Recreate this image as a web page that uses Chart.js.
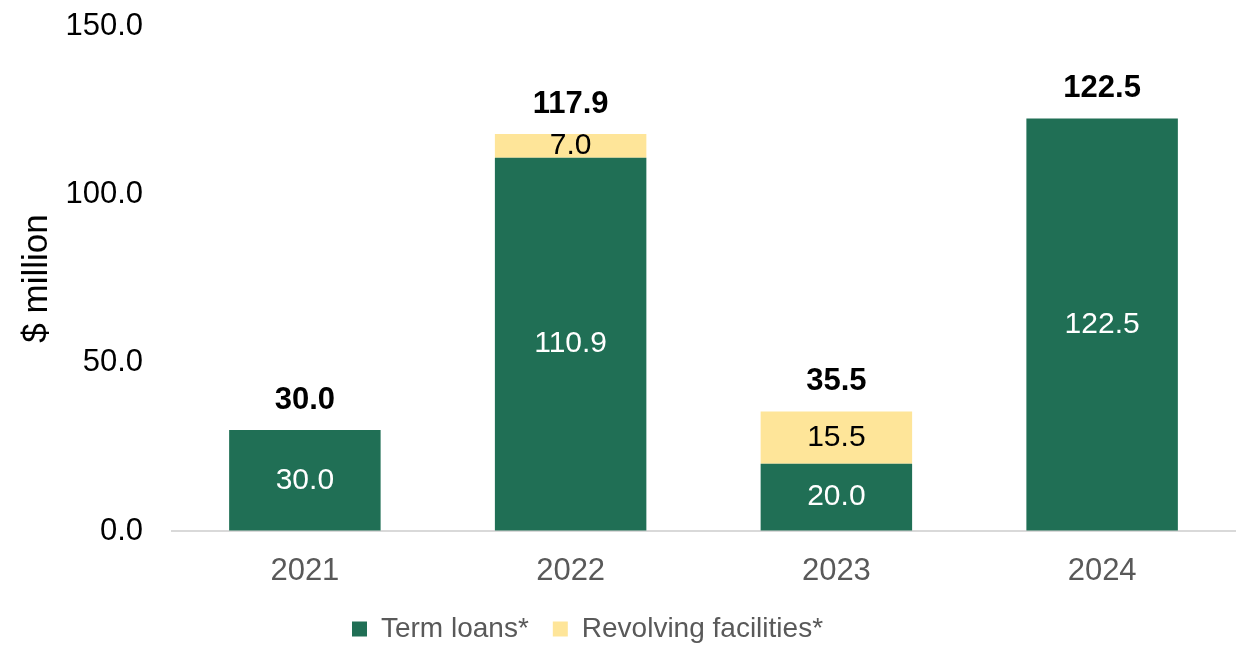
<!DOCTYPE html>
<html>
<head>
<meta charset="utf-8">
<script src="https://cdn.jsdelivr.net/npm/chart.js@4/dist/chart.umd.min.js"></script>
<style>
  html, body { margin: 0; padding: 0; background: #fff; }
  #wrap { width: 1243px; height: 646px; position: relative; }
</style>
</head>
<body>
<div id="wrap"><canvas id="chart"></canvas></div>
<script>
const years = ["2021", "2022", "2023", "2024"];
const termLoans = [30.0, 110.9, 20.0, 122.5];
const revolving = [null, 7.0, 15.5, null];
const yTicks = [0, 50, 100, 150];

const FONT = "'Liberation Sans', Arial, sans-serif";
Chart.defaults.font.family = FONT;

// value labels inside bars + bold totals above
const barLabels = {
  id: "barLabels",
  afterDatasetsDraw(chart) {
    const ctx = chart.ctx;
    ctx.save();
    ctx.textAlign = "center";
    ctx.textBaseline = "middle";
    chart.data.datasets.forEach((ds, i) => {
      const meta = chart.getDatasetMeta(i);
      meta.data.forEach((bar, j) => {
        const v = ds.data[j];
        if (v == null) return;
        ctx.fillStyle = i === 0 ? "#ffffff" : "#000000";
        ctx.font = "30px " + FONT;
        ctx.fillText(v.toFixed(1), bar.x, (bar.y + bar.base) / 2);
      });
    });
    // totals
    const first = chart.getDatasetMeta(0).data;
    years.forEach((y, j) => {
      const total = (termLoans[j] || 0) + (revolving[j] || 0);
      const topPx = chart.scales.y.getPixelForValue(total);
      ctx.fillStyle = "#000000";
      ctx.font = "bold 31px " + FONT;
      ctx.fillText(total.toFixed(1), first[j].x, topPx - 30);
    });
    ctx.restore();
  }
};

// nudge the legend a bit left, like the original
const legendShift = {
  id: "legendShift",
  afterLayout(chart) {
    chart.legend.left -= 30;
    chart.legend.right -= 30;
  }
};

new Chart(document.getElementById("chart"), {
  type: "bar",
  data: {
    labels: years,
    datasets: [
      {
        label: "Term loans*",
        data: termLoans,
        backgroundColor: "#206F55",
        categoryPercentage: 1,
        barPercentage: 0.57
      },
      {
        label: "Revolving facilities*",
        data: revolving,
        backgroundColor: "#FEE599",
        categoryPercentage: 1,
        barPercentage: 0.57
      }
    ]
  },
  options: {
    responsive: true,
    maintainAspectRatio: false,
    animation: false,
    layout: { padding: { top: 26, right: 8, left: 0, bottom: -7 } },
    plugins: {
      tooltip: { enabled: false },
      legend: {
        position: "bottom",
        labels: {
          color: "#595959",
          font: { size: 28 },
          boxWidth: 15,
          boxHeight: 15,
          padding: 24
        }
      }
    },
    scales: {
      x: {
        stacked: true,
        grid: { display: false, drawTicks: false },
        border: { display: true, color: "#d9d9d9", width: 2 },
        ticks: { color: "#595959", font: { size: 31 }, padding: 22 },
        afterFit(scale) { scale.height = 60; }
      },
      y: {
        stacked: true,
        min: 0,
        max: 150,
        afterBuildTicks(scale) {
          scale.ticks = yTicks.map(v => ({ value: v }));
        },
        // invisible tick marks give the gap between labels and bars
        grid: {
          display: true,
          drawOnChartArea: false,
          drawTicks: true,
          tickLength: 29,
          color: "rgba(0,0,0,0)"
        },
        border: { display: false },
        ticks: {
          color: "#000000",
          font: { size: 31 },
          padding: 0,
          callback: v => Number(v).toFixed(1)
        },
        title: {
          display: true,
          text: "$ million",
          color: "#000000",
          font: { size: 35 },
          padding: { top: 16, bottom: 0 }
        },
        afterFit(scale) { scale.width = 172; }
      }
    }
  },
  plugins: [barLabels, legendShift]
});
</script>
</body>
</html>
